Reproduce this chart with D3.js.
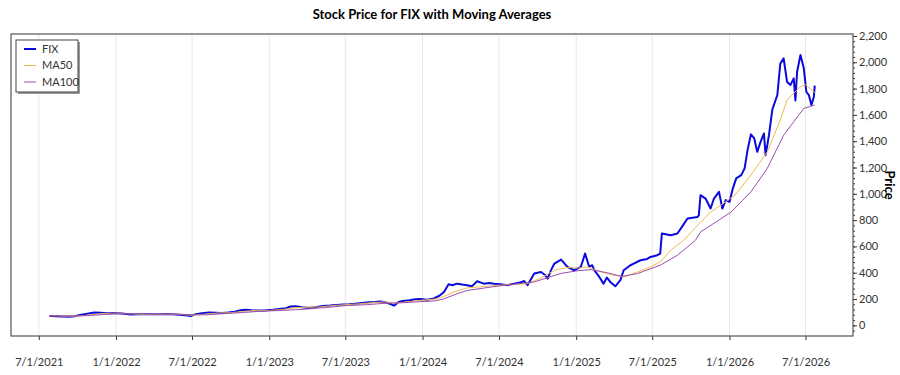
<!DOCTYPE html>
<html>
<head>
<meta charset="utf-8">
<title>Stock Price for FIX with Moving Averages</title>
<script src="https://cdn.jsdelivr.net/npm/d3@7"></script>
<style>
  body { margin: 0; background: #fff; }
  text { font-family: "Segoe UI", Lato, "Noto Sans", sans-serif; fill: #333; }
  .title { font-size: 13px; font-weight: bold; fill: #000; }
  .tick text { font-size: 11px; }
</style>
</head>
<body>
<div id="vis"></div>
<script>
// FIX closing price
var fixDates = ['2021-07-26','2021-08-10','2021-08-25','2021-09-10','2021-09-25','2021-10-10','2021-10-25','2021-11-10','2021-11-25','2021-12-10','2021-12-28',
  '2022-01-15','2022-02-06','2022-02-25','2022-03-20','2022-04-10','2022-04-28','2022-05-15','2022-06-01','2022-06-20','2022-06-28','2022-07-10','2022-07-25',
  '2022-08-10','2022-08-25','2022-09-10','2022-09-25','2022-10-10','2022-10-25','2022-11-05','2022-11-20','2022-12-05','2022-12-20',
  '2023-01-10','2023-01-25','2023-02-10','2023-02-20','2023-03-05','2023-03-20','2023-04-05','2023-04-20','2023-05-08','2023-05-25','2023-06-10','2023-06-25',
  '2023-07-10','2023-07-25','2023-08-10','2023-08-25','2023-09-10','2023-09-22','2023-10-05','2023-10-18','2023-10-25','2023-11-05','2023-11-15','2023-12-01','2023-12-15','2023-12-27',
  '2024-01-12','2024-01-28','2024-02-10','2024-02-21','2024-03-03','2024-03-12','2024-03-23','2024-04-05','2024-04-16','2024-04-28','2024-05-10','2024-05-26','2024-06-08','2024-06-19',
  '2024-07-05','2024-07-21','2024-08-06','2024-08-20','2024-08-30','2024-09-07','2024-09-23','2024-10-09','2024-10-18','2024-10-25','2024-11-02','2024-11-10','2024-11-26','2024-12-11','2024-12-27',
  '2025-01-12','2025-01-22','2025-02-01','2025-02-08','2025-02-13','2025-02-25','2025-03-07','2025-03-15','2025-03-23','2025-04-04','2025-04-16','2025-04-24','2025-05-10','2025-05-18','2025-06-03','2025-06-19','2025-06-27','2025-07-13','2025-07-20',
  '2025-07-24','2025-08-14','2025-08-30','2025-09-11','2025-09-23','2025-10-05','2025-10-17','2025-10-20','2025-10-24','2025-11-05','2025-11-17','2025-11-25','2025-12-07','2025-12-15','2025-12-23',
  '2026-01-01','2026-01-09','2026-01-17','2026-01-29','2026-02-06','2026-02-13','2026-02-21','2026-03-01','2026-03-08','2026-03-16','2026-03-24','2026-03-28','2026-04-05','2026-04-13','2026-04-25',
  '2026-05-02','2026-05-10','2026-05-18','2026-05-26','2026-06-03','2026-06-07','2026-06-11','2026-06-19','2026-06-27','2026-07-03','2026-07-09','2026-07-15','2026-07-21','2026-07-23'];
var fixValues = [72,70,67,65,70,80,88,97,95,92,94,
  90,82,84,87,85,86,84,81,75,70,85,92,
  97,95,93,97,104,114,119,115,113,112,
  118,125,130,143,145,138,132,138,147,150,155,158,
  160,165,170,175,178,182,175,160,150,178,186,190,198,200,
  195,205,225,253,312,305,317,310,305,298,335,317,322,317,
  312,305,317,325,337,305,394,406,385,355,420,470,500,444,419,
  444,546,444,457,419,368,317,363,330,297,343,419,457,470,495,505,520,533,546,
  698,685,698,754,812,818,824,837,990,964,888,964,1015,888,952,
  939,1041,1117,1142,1193,1332,1452,1421,1319,1395,1459,1294,1446,1640,1751,
  1990,2030,1852,1827,1878,1710,1928,2055,1954,1776,1751,1675,1738,1822];

// 50-day moving average
var ma50Dates = ['2021-07-26','2021-09-01','2021-10-01','2021-11-01','2021-12-01','2022-01-01','2022-02-01','2022-03-01','2022-04-01','2022-05-01','2022-06-01','2022-07-01',
  '2022-08-01','2022-09-01','2022-10-01','2022-11-01','2022-12-01','2023-01-01','2023-02-01','2023-03-01','2023-04-01','2023-05-01','2023-06-01','2023-07-01',
  '2023-08-01','2023-09-01','2023-10-01','2023-11-01','2023-12-01','2024-01-01','2024-02-01','2024-02-17','2024-03-23','2024-04-16','2024-06-29','2024-09-07',
  '2024-10-09','2024-11-10','2024-12-11','2025-01-04','2025-01-28','2025-03-01','2025-04-01','2025-04-25','2025-05-27','2025-06-27','2025-07-20','2025-08-14',
  '2025-09-14','2025-10-20','2025-11-17','2025-11-30','2026-01-14','2026-02-21','2026-04-01','2026-05-02','2026-05-18','2026-06-19','2026-07-01','2026-07-23'];
var ma50Values = [74,70,70,80,90,93,88,84,85,85,83,77,
  85,94,96,106,114,113,120,133,138,140,150,157,
  163,172,178,170,180,192,200,215,262,285,305,317,
  360,419,440,435,444,406,381,368,406,444,482,571,
  647,770,862,888,990,1142,1319,1561,1713,1814,1830,1770];

// 100-day moving average
var ma100Dates = ['2021-07-26','2021-10-01','2021-11-01','2021-12-01','2022-01-01','2022-02-01','2022-03-01','2022-04-01','2022-05-01','2022-06-01','2022-07-01',
  '2022-08-01','2022-09-01','2022-10-01','2022-11-01','2022-12-01','2023-01-01','2023-02-01','2023-03-23','2023-05-01','2023-06-01','2023-07-01','2023-08-20',
  '2023-10-01','2023-11-15','2023-12-15','2024-01-28','2024-02-20','2024-03-23','2024-04-16','2024-06-29','2024-09-23','2024-11-26','2025-01-04','2025-02-06',
  '2025-03-15','2025-04-20','2025-05-27','2025-07-20','2025-08-30','2025-10-12','2025-10-24','2025-11-30','2026-01-05','2026-02-21','2026-04-01','2026-05-10',
  '2026-06-03','2026-06-27','2026-07-23'];
var ma100Values = [74,71,75,82,88,90,88,86,85,84,81,
  80,86,92,98,105,110,113,122,132,140,150,157,
  167,172,178,185,200,240,265,299,330,395,415,424,
  400,372,394,457,533,647,710,786,862,1015,1193,1446,
  1548,1649,1675];

var yTicks = [0,200,400,600,800,1000,1200,1400,1600,1800,2000,2200];
var xTicks = ['2021-07-01','2022-01-01','2022-07-01','2023-01-01','2023-07-01','2024-01-01','2024-07-01','2025-01-01','2025-07-01','2026-01-01','2026-07-01'];

var width = 900, height = 375;
var pL = 11, pR = 853, pT = 34, pB = 336;

var parse = d3.timeParse('%Y-%m-%d');
function pairs(ds, vs){ return ds.map(function(d,i){ return {date: parse(d), value: vs[i]}; }); }
var fix = pairs(fixDates, fixValues),
  ma50 = pairs(ma50Dates, ma50Values),
  ma100 = pairs(ma100Dates, ma100Values);

var ext = d3.extent(fix, function(d){ return d.date; });
var pad = (ext[1] - ext[0]) * 0.05;
var x = d3.scaleTime().domain([new Date(+ext[0] - pad), new Date(+ext[1] + pad)]).range([pL, pR]);
var y = d3.scaleLinear().domain([-81, 2215]).range([pB, pT]);

var svg = d3.select('#vis').append('svg').attr('width', width).attr('height', height);

svg.append('text').attr('class','title')
  .attr('x', (pL+pR)/2).attr('y', 19)
  .attr('text-anchor','middle')
  .text('Stock Price for FIX with Moving Averages');

// vertical grid
svg.append('g').selectAll('line').data(xTicks).enter().append('line')
  .attr('x1', function(d){ return x(parse(d)); })
  .attr('x2', function(d){ return x(parse(d)); })
  .attr('y1', pT).attr('y2', pB)
  .style('stroke', '#e8e8e8');

// x axis
var xAxis = d3.axisBottom(x).tickValues(xTicks.map(parse)).tickSize(4).tickPadding(18)
  .tickFormat(d3.timeFormat('%-m/%-d/%Y'));
var gx = svg.append('g').attr('transform','translate(0,'+pB+')').call(xAxis);
gx.select('.domain').remove();
gx.selectAll('.tick line').style('stroke','#333');

// y axis on the right, minor ticks first
var gMinor = svg.append('g').attr('transform','translate('+pR+',0)')
  .call(d3.axisRight(y).tickValues(d3.range(-40, 2201, 40)).tickSize(2).tickFormat(''));
gMinor.select('.domain').remove();
gMinor.selectAll('.tick line').style('stroke','#333');

var gy = svg.append('g').attr('transform','translate('+pR+',0)')
  .call(d3.axisRight(y).tickValues(yTicks).tickSize(4).tickPadding(2).tickFormat(d3.format(',')));
gy.select('.domain').remove();
gy.selectAll('.tick line').style('stroke','#333');

svg.append('text')
  .attr('transform','translate(885,'+((pT+pB)/2)+') rotate(90)')
  .attr('text-anchor','middle')
  .style('font-size','13px').style('font-weight','bold').style('fill','#000')
  .text('Price');

// plot frame
svg.append('rect')
  .attr('x', pL).attr('y', pT)
  .attr('width', pR-pL).attr('height', pB-pT)
  .style('fill','none').style('stroke','#555').style('stroke-width',1.2);

var line = d3.line().x(function(d){ return x(d.date); }).y(function(d){ return y(d.value); });

var plot = svg.append('g');
plot.append('path').datum(fix).attr('d', line)
  .style('fill','none').style('stroke','#0a0adf').style('stroke-width',2).style('stroke-linejoin','round');
plot.append('path').datum(ma50).attr('d', line)
  .style('fill','none').style('stroke','#f0b950').style('stroke-width',1);
plot.append('path').datum(ma100).attr('d', line)
  .style('fill','none').style('stroke','#9b4db0').style('stroke-width',1);

// legend
var series = [
  {name:'FIX', color:'#0a0adf', w:2},
  {name:'MA50', color:'#f0b950', w:1},
  {name:'MA100', color:'#9b4db0', w:1}
];
var lg = svg.append('g').attr('transform','translate(16,40)');
lg.append('rect').attr('x',2).attr('y',2).attr('width',62).attr('height',52).style('fill','#999');
lg.append('rect').attr('width',62).attr('height',52).style('fill','#fff').style('stroke','#444');
series.forEach(function(s,i){
  var yy = 9 + i*16.5;
  lg.append('line').attr('x1',8).attr('x2',20).attr('y1',yy).attr('y2',yy)
    .style('stroke',s.color).style('stroke-width',s.w);
  lg.append('text').attr('x',26).attr('y',yy).attr('dy','0.35em')
    .style('font-size','11px').text(s.name);
});
</script>
</body>
</html>
